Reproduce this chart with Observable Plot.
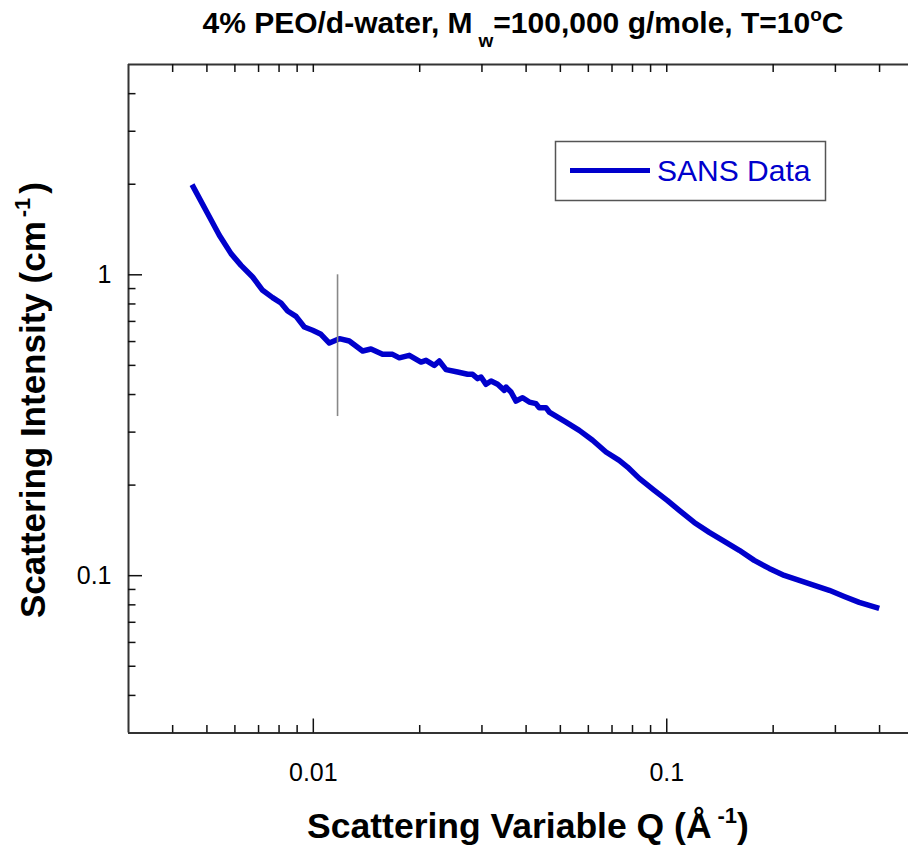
<!DOCTYPE html>
<html><head><meta charset="utf-8">
<script src="https://cdn.jsdelivr.net/npm/d3@7"></script>
<script src="https://cdn.jsdelivr.net/npm/@observablehq/plot@0.6"></script>
<style>
body{margin:0;background:#fff}
#chart{position:relative;width:908px;height:849px}
</style>
</head><body><div id="chart"></div>
<script>
// ---- data ----
const q = [0.004538,0.005023,0.005421,0.005851,0.006245,0.006735,0.007188,0.007672,0.008102,0.008460,
  0.008935,0.009431,0.009954,0.01051,0.01110,0.01185,0.01264,0.01379,0.01456,0.01570,
  0.01676,0.01751,0.01869,0.02017,0.02084,0.02199,0.02272,0.02374,0.02560,0.02733,
  0.02823,0.02917,0.02982,0.03081,0.03183,0.03323,0.03470,0.03509,0.03625,0.03745,
  0.03910,0.04083,0.04266,0.04358,0.04552,0.04651,0.05186,0.05655,0.06168,0.06730,
  0.07337,0.07745,0.08360,0.09218,0.1003,0.1085,0.1196,0.1319,0.1455,0.1604,
  0.1768,0.1950,0.2150,0.2371,0.2614,0.2883,0.3178,0.3504,0.3991];
const intensity = [1.994,1.598,1.353,1.176,1.075,0.9833,0.8882,0.8399,0.8057,0.7581,
  0.7278,0.6707,0.6539,0.6342,0.5932,0.6135,0.6024,0.5580,0.5666,0.5441,
  0.5441,0.5297,0.5399,0.5129,0.5197,0.5002,0.5169,0.4841,0.4753,0.4670,
  0.4670,0.4519,0.4574,0.4325,0.4435,0.4325,0.4130,0.4236,0.4077,0.3805,
  0.3905,0.3776,0.3730,0.3618,0.3618,0.3499,0.3241,0.3041,0.2818,0.2576,
  0.2417,0.2296,0.2106,0.1921,0.1780,0.1648,0.1503,0.1393,0.1300,0.1214,
  0.1124,0.1057,0.1002,0.0965,0.0929,0.0894,0.0853,0.0815,0.0778];
const seriesName = "SANS Data";
const markerQ = [0.01171];
const markerTop = 1.0;
const markerBottom = 0.338;

const xDomain = [0.003, 0.483];
const yDomain = [0.03, 5];
const xMajor = [0.01, 0.1];
const xMajorLabels = ["0.01", "0.1"];
const xMinor = [0.004,0.005,0.006,0.007,0.008,0.009,0.02,0.03,0.04,0.05,0.06,0.07,0.08,0.09,0.2,0.3,0.4];
const yMajor = [0.1, 1];
const yMajorLabels = ["0.1", "1"];
const yMinor = [0.04,0.05,0.06,0.07,0.08,0.09,0.2,0.3,0.4,0.5,0.6,0.7,0.8,0.9,2,3,4];

const titleParts = ["4% PEO/d-water, M", "w", "=100,000 g/mole, T=10", "o", "C"];
const xLabelParts = ["Scattering Variable Q (Å", "-1", ")"];
const yLabelParts = ["Scattering Intensity (cm", "-1", ")"];

// ---- layout ----
const W = 908, H = 849;
const mL = 128, mR = 0, mT = 64, mB = 116.5;
const pw = W - mL - mR, ph = H - mT - mB;
const FONT = "'Liberation Sans', Arial, Helvetica, sans-serif";
const data = q.map((v, i) => ({q: v, I: intensity[i]}));
const axisColor = "#333";

const chart = Plot.plot({
  width: W, height: H,
  marginLeft: mL, marginRight: mR, marginTop: mT, marginBottom: mB,
  x: {type: "log", domain: xDomain, axis: null},
  y: {type: "log", domain: yDomain, axis: null},
  style: {fontFamily: FONT, background: "#fff", overflow: "visible"},
  marks: [
    Plot.line(data, {x: "q", y: "I", stroke: "#0000cc", strokeWidth: 5.5, strokeLinejoin: "round", strokeLinecap: "butt"}),
    Plot.ruleX(markerQ, {x: d => d, y1: markerTop, y2: markerBottom, stroke: "#888", strokeWidth: 1.6}),
    Plot.ruleY([yDomain[0]], {stroke: axisColor, strokeWidth: 2}),
    Plot.ruleY([yDomain[1]], {stroke: axisColor, strokeWidth: 2}),
    Plot.ruleX([xDomain[0]], {stroke: axisColor, strokeWidth: 2}),
    Plot.tickX(xMajor, {x: d => d, insetTop: ph - 14, stroke: "#111", strokeWidth: 1.5}),
    Plot.tickX(xMinor, {x: d => d, insetTop: ph - 7.5, stroke: "#111", strokeWidth: 1.5}),
    Plot.tickX(xMajor.concat(xMinor), {x: d => d, insetBottom: ph - 8, stroke: "#111", strokeWidth: 1.5}),
    Plot.tickY(yMajor, {y: d => d, insetRight: pw - 14, stroke: "#111", strokeWidth: 1.5}),
    Plot.tickY(yMinor, {y: d => d, insetRight: pw - 7.5, stroke: "#111", strokeWidth: 1.5}),
    Plot.text(xMajor, {x: d => d, text: (d, i) => xMajorLabels[i], frameAnchor: "bottom", dy: 40, lineAnchor: "middle", fontSize: 25, fill: "#000"}),
    Plot.text(yMajor, {y: d => d, text: (d, i) => yMajorLabels[i], frameAnchor: "left", dx: -17, textAnchor: "end", lineAnchor: "middle", fontSize: 25, fill: "#000"})
  ]
});
document.getElementById("chart").appendChild(chart);

// ---- titles and legend (real text with sub/superscripts) ----
const svg = d3.select(chart);
const t = svg.append("text").attr("x", 523).attr("y", 33).attr("text-anchor", "middle")
  .attr("font-family", FONT).attr("font-weight", "bold").attr("font-size", 30).attr("fill", "#000");
t.append("tspan").text(titleParts[0]);
t.append("tspan").attr("dx", 6).attr("dy", 14).attr("font-size", 19).text(titleParts[1]);
t.append("tspan").attr("dy", -14).text(titleParts[2]);
t.append("tspan").attr("dy", -12).attr("font-size", 19).text(titleParts[3]);
t.append("tspan").attr("dy", 12).text(titleParts[4]);

const xl = svg.append("text").attr("x", 528).attr("y", 838).attr("text-anchor", "middle")
  .attr("font-family", FONT).attr("font-weight", "bold").attr("font-size", 35.5).attr("fill", "#000");
xl.append("tspan").text(xLabelParts[0]);
xl.append("tspan").attr("dx", 6).attr("dy", -15).attr("font-size", 22).text(xLabelParts[1]);
xl.append("tspan").attr("dy", 15).text(xLabelParts[2]);

const yl = svg.append("text").attr("transform", "translate(45,400) rotate(-90)").attr("text-anchor", "middle")
  .attr("font-family", FONT).attr("font-weight", "bold").attr("font-size", 35).attr("fill", "#000");
yl.append("tspan").text(yLabelParts[0]);
yl.append("tspan").attr("dx", 4).attr("dy", -15).attr("font-size", 22).text(yLabelParts[1]);
yl.append("tspan").attr("dx", 4).attr("dy", 15).text(yLabelParts[2]);

const lg = svg.append("g");
lg.append("rect").attr("x", 555.5).attr("y", 141.5).attr("width", 270).attr("height", 59)
  .attr("fill", "#fff").attr("stroke", "#555").attr("stroke-width", 1.5);
lg.append("line").attr("x1", 570).attr("x2", 650).attr("y1", 170.5).attr("y2", 170.5)
  .attr("stroke", "#0000cc").attr("stroke-width", 5);
lg.append("text").attr("x", 657).attr("y", 181).attr("text-anchor", "start").attr("font-family", FONT).attr("font-size", 30)
  .attr("fill", "#0000cc").text(seriesName);
</script>
</body></html>
